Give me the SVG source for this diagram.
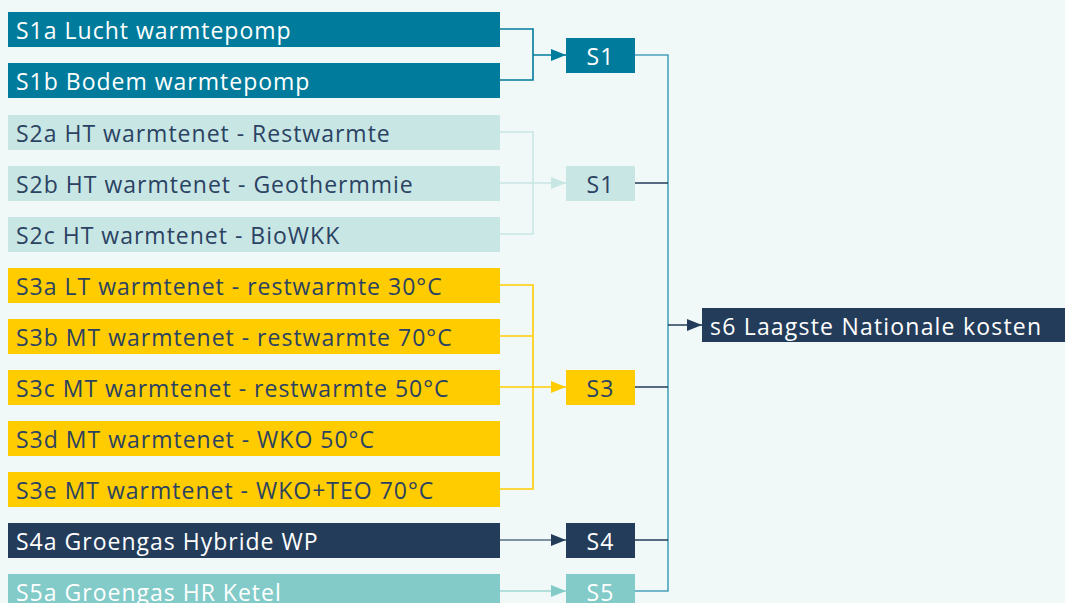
<svg xmlns="http://www.w3.org/2000/svg" width="1065" height="603" viewBox="0 0 1065 603">
<defs>
<style>
.t{font-family:"Open Sans","Liberation Sans",sans-serif;font-size:23px;letter-spacing:1px;}
.w{fill:#ffffff;}
.n{fill:#2b4262;}
.ln{fill:none;stroke-width:1.6;}
</style>
<marker id="aTeal" markerWidth="16" markerHeight="12" refX="15" refY="6" orient="auto" markerUnits="userSpaceOnUse"><path d="M0,0 L15,6 L0,12 z" fill="#007b9b"/></marker>
<marker id="aLight" markerWidth="16" markerHeight="12" refX="15" refY="6" orient="auto" markerUnits="userSpaceOnUse"><path d="M0,0 L15,6 L0,12 z" fill="#c7e6e4"/></marker>
<marker id="aYel" markerWidth="16" markerHeight="12" refX="15" refY="6" orient="auto" markerUnits="userSpaceOnUse"><path d="M0,0 L15,6 L0,12 z" fill="#ffcc00"/></marker>
<marker id="aNavy" markerWidth="16" markerHeight="12" refX="15" refY="6" orient="auto" markerUnits="userSpaceOnUse"><path d="M0,0 L15,6 L0,12 z" fill="#233c5a"/></marker>
<marker id="aMint" markerWidth="16" markerHeight="12" refX="15" refY="6" orient="auto" markerUnits="userSpaceOnUse"><path d="M0,0 L15,6 L0,12 z" fill="#82cbc9"/></marker>
</defs>
<rect x="0" y="0" width="1065" height="603" fill="#f0f9f8"/>
<g id="connectors">
<path class="ln" stroke="#007b9b" d="M500,29 H533 V80 H500 M533,55 H566" marker-end="url(#aTeal)"/>
<path class="ln" stroke="#c7e6e4" d="M500,132 H533 V234 H500 M500,183 H566" marker-end="url(#aLight)"/>
<path class="ln" stroke="#ffcc00" d="M500,285 H533 V489 H500 M500,336 H533 M500,387 H566" marker-end="url(#aYel)"/>
<path class="ln" stroke="#5a6f87" d="M500,540 H566" marker-end="url(#aNavy)"/>
<path class="ln" stroke="#9fd6d4" d="M500,591 H566" marker-end="url(#aMint)"/>
<path class="ln" stroke="#4aa3bb" d="M635,55 H668 V591 H635"/>
<path class="ln" stroke="#233c5a" d="M635,183 H668 M635,387 H668 M635,540 H668"/>
<path class="ln" stroke="#233c5a" d="M668,325 H702" marker-end="url(#aNavy)"/>
</g>
<g id="s1a"><rect x="8" y="12" width="492" height="35" fill="#007b9b"/><text class="t w" x="16" y="39">S1a Lucht warmtepomp</text></g>
<g id="s1b"><rect x="8" y="63" width="492" height="35" fill="#007b9b"/><text class="t w" x="16" y="90">S1b Bodem warmtepomp</text></g>
<g id="s2a"><rect x="8" y="115" width="492" height="35" fill="#c7e6e4"/><text class="t n" x="16" y="142">S2a HT warmtenet - Restwarmte</text></g>
<g id="s2b"><rect x="8" y="166" width="492" height="35" fill="#c7e6e4"/><text class="t n" x="16" y="193">S2b HT warmtenet - Geothermmie</text></g>
<g id="s2c"><rect x="8" y="217" width="492" height="35" fill="#c7e6e4"/><text class="t n" x="16" y="244">S2c HT warmtenet - BioWKK</text></g>
<g id="s3a"><rect x="8" y="268" width="492" height="35" fill="#ffcc00"/><text class="t n" x="16" y="295">S3a LT warmtenet - restwarmte 30°C</text></g>
<g id="s3b"><rect x="8" y="319" width="492" height="35" fill="#ffcc00"/><text class="t n" x="16" y="346">S3b MT warmtenet - restwarmte 70°C</text></g>
<g id="s3c"><rect x="8" y="370" width="492" height="35" fill="#ffcc00"/><text class="t n" x="16" y="397">S3c MT warmtenet - restwarmte 50°C</text></g>
<g id="s3d"><rect x="8" y="421" width="492" height="35" fill="#ffcc00"/><text class="t n" x="16" y="448">S3d MT warmtenet - WKO 50°C</text></g>
<g id="s3e"><rect x="8" y="472" width="492" height="35" fill="#ffcc00"/><text class="t n" x="16" y="499">S3e MT warmtenet - WKO+TEO 70°C</text></g>
<g id="s4a"><rect x="8" y="523" width="492" height="35" fill="#233c5a"/><text class="t w" x="16" y="550">S4a Groengas Hybride WP</text></g>
<g id="s5a"><rect x="8" y="574" width="492" height="35" fill="#82cbc9"/><text class="t w" x="16" y="601">S5a Groengas HR Ketel</text></g>
<g id="S1"><rect x="566" y="38" width="69" height="35" fill="#007b9b"/><text class="t w" x="600.5" y="65" text-anchor="middle">S1</text></g>
<g id="S1b"><rect x="566" y="166" width="69" height="35" fill="#c7e6e4"/><text class="t n" x="600.5" y="193" text-anchor="middle">S1</text></g>
<g id="S3"><rect x="566" y="370" width="69" height="35" fill="#ffcc00"/><text class="t n" x="600.5" y="397" text-anchor="middle">S3</text></g>
<g id="S4"><rect x="566" y="523" width="69" height="35" fill="#233c5a"/><text class="t w" x="600.5" y="550" text-anchor="middle">S4</text></g>
<g id="S5"><rect x="566" y="574" width="69" height="35" fill="#82cbc9"/><text class="t w" x="600.5" y="601" text-anchor="middle">S5</text></g>
<g id="s6"><rect x="702" y="308" width="363" height="34" fill="#233c5a"/><text class="t w" x="710" y="335" style="letter-spacing:1.2px">s6 Laagste Nationale kosten</text></g>
</svg>
